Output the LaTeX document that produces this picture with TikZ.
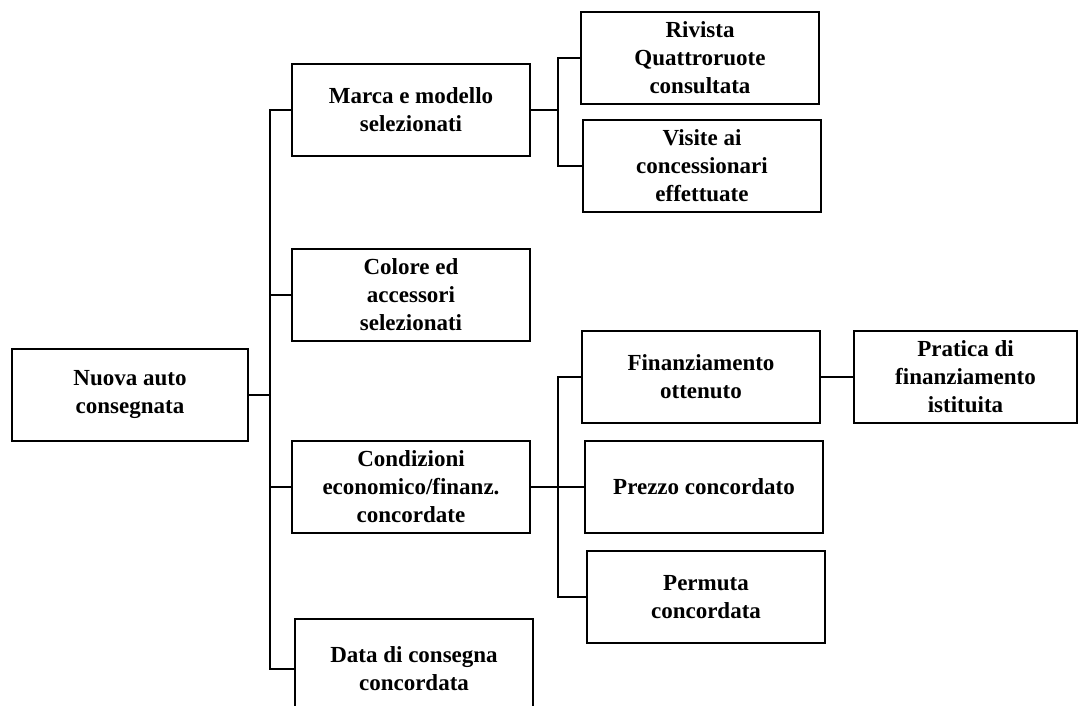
\documentclass[tikz,border=0pt]{standalone}
\usepackage{fontspec}
\setmainfont{Liberation Serif}

\begin{document}
\begin{tikzpicture}[x=1pt,y=-1pt,line width=1.5pt,
    every node/.style={draw=black,line width=1.5pt,rectangle,inner sep=0pt,minimum width=238pt,minimum height=92pt,align=center,font=\fontsize{23}{28}\selectfont\bfseries}]
                \useasboundingbox (0,0) rectangle (1079,706);

                \node[minimum width=236pt] (nuova) at (130,395) {Nuova auto\\consegnata};
                \node[] (marca) at (411,110) {Marca e modello\\selezionati};
                \node[] (colore) at (411,295) {Colore ed\\accessori\\selezionati};
                \node[] (cond) at (411,487) {Condizioni\\economico/finanz.\\concordate};
                \node[minimum height=100pt] (data) at (414,669) {Data di consegna\\concordata};
                \node[] (rivista) at (700,58) {Rivista\\Quattroruote\\consultata};
                \node[] (visite) at (702,166) {Visite ai\\concessionari\\effettuate};
                \node[] (finanz) at (701,377) {Finanziamento\\ottenuto};
                \node[] (prezzo) at (704,487) {Prezzo concordato};
                \node[] (permuta) at (706,597) {Permuta\\concordata};
                \node[minimum width=223pt] (pratica) at (965.5,377) {Pratica di\\finanziamento\\istituita};

                \coordinate (busA) at (270,395);
                \coordinate (busB) at (558,110);
                \coordinate (busC) at (558,487);

                \draw (nuova) -- (busA);
                \draw (busA) |- (marca);
                \draw (busA) |- (colore);
                \draw (busA) |- (cond);
                \draw (busA) |- (data);
                \draw (marca) -- (busB);
                \draw (busB) |- (rivista);
                \draw (busB) |- (visite);
                \draw (cond) -- (prezzo);
                \draw (busC) |- (finanz);
                \draw (busC) |- (permuta);
                \draw (finanz) -- (pratica);
            \end{tikzpicture}
\end{document}
